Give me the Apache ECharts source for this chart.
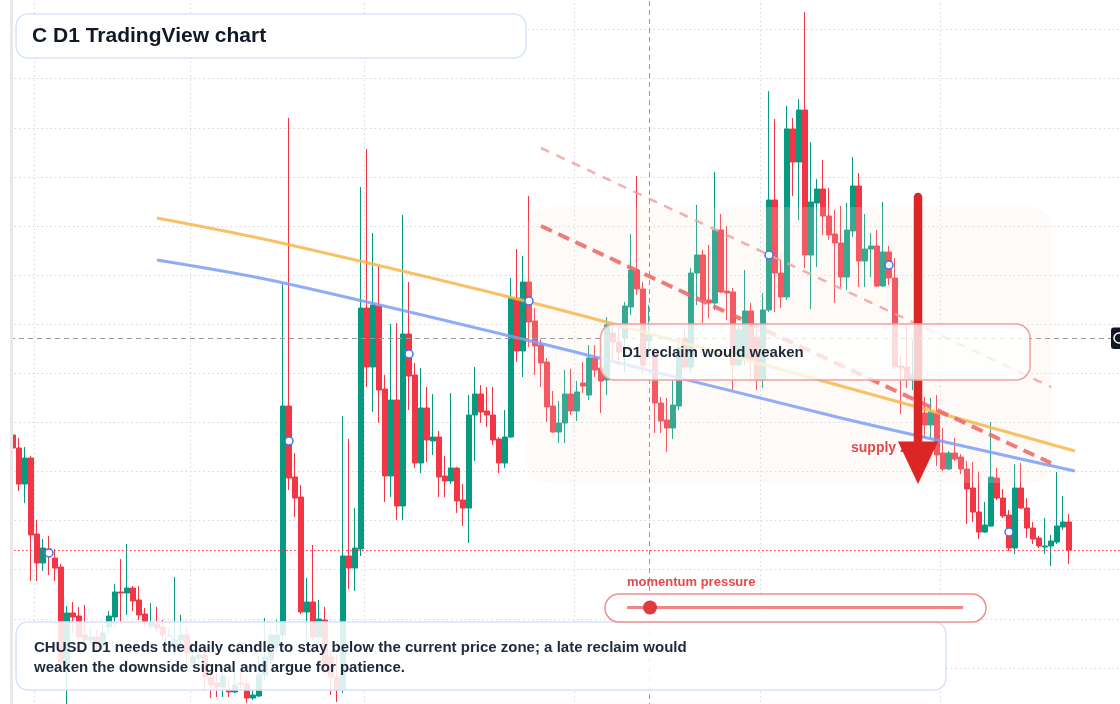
<!DOCTYPE html>
<html>
<head>
<meta charset="utf-8">
<style>
html, body { margin: 0; padding: 0; background: #fff; }
#main { width: 1120px; height: 704px; }
</style>
<script src="https://cdn.jsdelivr.net/npm/echarts@6/dist/echarts.min.js"></script>
</head>
<body>
<div id="main"></div>
<script>
let myChart = echarts.init(document.getElementById('main'));

// daily candles (price units are arbitrary, no axis labels shown)
const opens = [
    2.82, 2.69, 2.33, 2.59, 1.83, 1.54, 1.68, 1.59, 1.50, 0.52,
    1.04, 1.01, 0.82, 0.77, 0.80, 0.72, 0.90, 1.00, 1.25, 1.24,
    1.29, 1.17, 1.03, 0.91, 0.93, 0.90, 0.77, 0.69, 0.77, 0.82,
    0.54, 0.59, 0.62, 0.40, 0.34, 0.30, 0.27, 0.25, 0.34, 0.33,
    0.19, 0.21, 0.42, 0.57, 0.70, 0.82, 3.11, 2.40, 2.20, 1.05,
    1.15, 0.80, 0.97, 0.60, 0.40, 0.28, 1.61, 1.49, 1.68, 4.09,
    3.50, 4.11, 3.28, 2.41, 3.17, 2.11, 3.83, 3.42, 2.54, 3.09,
    2.76, 2.80, 2.41, 2.36, 2.49, 2.17, 2.09, 3.02, 3.23, 3.06,
    3.02, 2.78, 2.54, 2.80, 4.19, 3.66, 4.35, 3.96, 3.72, 3.55,
    3.11, 2.85, 2.94, 3.23, 3.06, 3.34, 3.22, 3.59, 3.49, 3.37,
    3.84, 3.75, 3.79, 4.10, 4.47, 4.28, 3.76, 3.63, 3.14, 2.97,
    2.89, 3.11, 3.79, 3.50, 4.44, 4.62, 4.17, 4.14, 4.87, 4.26,
    4.25, 3.52, 3.57, 4.06, 3.80, 3.37, 4.07, 5.17, 4.44, 4.20,
    5.88, 5.55, 6.07, 4.62, 5.14, 5.28, 5.01, 4.83, 4.74, 4.40,
    4.86, 5.31, 4.56, 4.68, 4.71, 4.31, 4.65, 4.39, 3.51, 3.50,
    3.38, 3.42, 3.04, 2.92, 3.04, 2.64, 2.48, 2.64, 2.60, 2.48,
    2.29, 2.05, 1.85, 1.91, 2.39, 2.19, 2.02, 1.69, 2.29, 2.09,
    1.89, 1.79, 1.70, 1.71, 1.75, 1.90, 1.95
];
const closes = [
    2.69, 2.33, 2.59, 1.82, 1.54, 1.69, 1.63, 1.49, 0.55, 1.04,
    1.00, 0.80, 0.77, 0.80, 0.74, 0.84, 1.01, 1.25, 1.24, 1.29,
    1.16, 1.02, 0.95, 0.94, 0.89, 0.82, 0.80, 0.77, 0.82, 0.64,
    0.60, 0.62, 0.40, 0.32, 0.30, 0.41, 0.25, 0.32, 0.33, 0.19,
    0.22, 0.42, 0.60, 0.82, 0.82, 3.11, 2.39, 2.19, 1.05, 1.15,
    0.80, 0.98, 0.51, 0.40, 0.27, 1.61, 1.49, 1.69, 4.09, 3.50,
    4.12, 3.27, 2.41, 3.17, 2.11, 3.83, 3.41, 2.54, 3.09, 2.77,
    2.80, 2.40, 2.36, 2.49, 2.16, 2.09, 3.02, 3.23, 3.05, 3.02,
    2.77, 2.54, 2.80, 4.19, 3.66, 4.35, 3.95, 3.71, 3.54, 3.10,
    2.85, 2.94, 3.23, 3.06, 3.25, 3.31, 3.59, 3.47, 3.36, 3.92,
    3.75, 3.65, 4.11, 4.47, 4.28, 3.52, 3.82, 3.14, 2.96, 2.89,
    3.12, 3.69, 3.50, 4.44, 4.62, 4.17, 4.14, 4.87, 4.25, 4.24,
    3.52, 3.87, 4.06, 3.57, 3.37, 4.07, 5.17, 4.44, 4.20, 5.88,
    5.55, 6.07, 4.62, 5.15, 5.28, 5.01, 4.82, 4.74, 4.40, 4.87,
    5.31, 4.56, 4.68, 4.71, 4.31, 4.65, 4.39, 3.50, 3.49, 3.38,
    3.42, 3.17, 2.92, 3.05, 2.62, 2.48, 2.64, 2.58, 2.48, 2.28,
    2.05, 1.85, 1.92, 2.40, 2.19, 2.01, 1.69, 2.29, 2.09, 1.89,
    1.78, 1.71, 1.71, 1.76, 1.91, 1.95, 1.67
];
const lows = [
    2.67, 2.26, 2.14, 1.36, 1.36, 1.46, 1.42, 1.36, 0.49, 0.13,
    0.84, 0.70, 0.67, 0.72, 0.67, 0.67, 0.84, 0.90, 0.95, 1.02,
    1.06, 0.97, 0.90, 0.87, 0.85, 0.77, 0.69, 0.62, 0.69, 0.54,
    0.49, 0.54, 0.27, 0.19, 0.20, 0.20, 0.20, 0.24, 0.27, 0.14,
    0.17, 0.20, 0.37, 0.53, 0.65, 0.77, 2.27, 2.00, 1.03, 0.70,
    0.77, 0.74, 0.43, 0.22, 0.15, 0.24, 1.28, 1.26, 1.61, 3.30,
    3.05, 2.94, 2.15, 2.20, 1.97, 1.97, 3.07, 2.49, 2.44, 2.55,
    2.62, 2.20, 2.20, 2.33, 2.04, 1.91, 1.74, 2.56, 2.94, 2.90,
    2.72, 2.44, 2.49, 2.79, 3.55, 3.40, 3.70, 3.42, 3.30, 2.95,
    2.84, 2.74, 2.74, 3.02, 2.96, 3.24, 3.17, 3.40, 3.04, 3.22,
    3.57, 3.52, 3.45, 4.02, 4.22, 3.44, 3.67, 2.84, 2.84, 2.65,
    2.78, 3.07, 3.47, 3.45, 4.12, 3.94, 3.99, 4.07, 4.24, 3.97,
    3.27, 3.50, 3.52, 3.37, 3.27, 3.29, 4.05, 4.05, 4.09, 4.17,
    5.21, 4.97, 4.49, 4.08, 4.50, 4.82, 4.77, 4.14, 4.30, 4.27,
    4.80, 4.30, 4.30, 4.40, 4.30, 4.30, 4.32, 3.47, 3.03, 3.29,
    3.27, 3.12, 2.79, 2.79, 2.51, 2.46, 2.47, 2.56, 2.43, 1.93,
    1.95, 1.78, 1.84, 1.90, 2.17, 1.99, 1.66, 1.63, 2.08, 1.79,
    1.73, 1.69, 1.63, 1.51, 1.73, 1.87, 1.53
];
const highs = [
    2.85, 2.79, 2.70, 2.61, 1.97, 1.78, 1.81, 1.68, 1.53, 1.11,
    1.15, 1.10, 1.12, 0.89, 0.87, 0.92, 1.06, 1.33, 1.58, 1.73,
    1.31, 1.31, 1.09, 1.14, 1.10, 0.97, 0.89, 1.40, 1.02, 0.90,
    0.69, 0.67, 0.72, 0.47, 0.44, 0.50, 0.40, 0.50, 0.47, 0.40,
    0.27, 0.61, 0.99, 0.90, 0.97, 4.33, 5.99, 2.64, 2.32, 1.39,
    1.72, 1.17, 1.10, 0.67, 0.62, 3.01, 2.78, 2.09, 5.30, 5.68,
    4.84, 4.50, 3.42, 3.93, 3.94, 5.02, 4.35, 3.54, 3.49, 3.30,
    3.23, 2.86, 2.61, 3.24, 2.50, 2.33, 3.22, 3.50, 3.32, 3.30,
    3.30, 2.80, 3.07, 4.39, 4.68, 4.61, 5.21, 4.09, 3.78, 3.59,
    3.26, 3.16, 3.47, 3.48, 3.36, 3.55, 3.72, 3.72, 3.64, 4.00,
    3.89, 3.89, 4.15, 4.83, 5.41, 4.35, 4.12, 3.69, 3.20, 3.19,
    3.37, 3.79, 3.87, 4.49, 5.12, 4.67, 4.72, 5.45, 5.03, 4.91,
    4.29, 3.92, 4.47, 4.14, 3.92, 4.24, 6.26, 5.98, 4.57, 6.11,
    5.99, 6.18, 7.05, 5.75, 5.38, 5.57, 5.29, 5.07, 5.11, 5.14,
    5.60, 5.44, 5.03, 4.84, 4.87, 5.15, 4.71, 4.59, 3.60, 3.91,
    3.77, 3.47, 3.20, 3.19, 3.22, 2.89, 2.66, 2.79, 2.63, 2.56,
    2.55, 2.45, 2.15, 2.95, 2.49, 2.28, 2.07, 2.53, 2.54, 2.19,
    1.95, 1.81, 1.99, 1.82, 2.45, 2.21, 2.03
];

// empty days kept on the right, like the TradingView margin
const padDays = 8;

// small round markers on every 20th candle (the one under the note box is hidden)
const markerIdx = [6, 26, 46, 66, 86, 126, 146, 166];
const markerVals = [1.64, 0.77, 2.76, 3.63, 4.16, 4.62, 4.52, 1.85];

// drawn lines: [candle index, price]
const orangeLine = [[24, 4.99], [44, 4.75], [89, 4.105], [138, 3.31], [177, 2.66]];
const blueLine = [[24, 4.57], [44, 4.355], [89, 3.72], [138, 2.99], [177, 2.46]];
const dashUpper = [[88, 5.69], [173, 3.30]];
const dashLower = [[88, 4.91], [173, 2.54]];

const lastPrice = 1.67;
const cursorIdx = 106;
const cursorPrice = 3.79;
const monthCols = [4, 30, 59, 94, 125, 155];

// trading days for the category axis
let days = [];
let d = new Date(Date.UTC(2025, 0, 2));
while (days.length < opens.length + padDays) {
    let wd = d.getUTCDay();
    if (wd !== 0 && wd !== 6) days.push(d.toISOString().slice(0, 10));
    d.setUTCDate(d.getUTCDate() + 1);
}

let candles = opens.map((o, i) => [o, closes[i], lows[i], highs[i]]);
let markers = markerIdx.map((k, i) => [k, markerVals[i]]);

const ff = '"Liberation Sans", Arial, sans-serif';
const gridLine = {color: '#d3d7dd', type: [1.5, 3], width: 1};

let option = {
    animation: false,
    grid: {left: 10, right: 0, top: -19.5, bottom: -13, outerBoundsMode: 'none', containLabel: false},
    xAxis: {
        type: 'category',
        data: days,
        boundaryGap: true,
        axisLine: {show: false},
        axisTick: {show: false},
        axisLabel: {show: false},
        splitLine: {
            show: true,
            interval: (i) => monthCols.indexOf(i) >= 0,
            lineStyle: gridLine
        }
    },
    yAxis: {
        type: 'value',
        min: 0,
        max: 7.365,
        interval: 0.491,
        axisLine: {show: false},
        axisTick: {show: false},
        axisLabel: {show: false},
        splitLine: {show: true, lineStyle: gridLine}
    },
    series: [
        {
            type: 'candlestick',
            data: candles,
            barWidth: 4.6,
            z: 2,
            itemStyle: {
                color: '#089981',
                color0: '#f23645',
                borderColor: '#089981',
                borderColor0: '#f23645',
                borderWidth: 1
            },
            markLine: {
                silent: true,
                symbol: ['none', 'none'],
                label: {show: false},
                lineStyle: {color: '#f23645', type: [1.5, 2.5], width: 1},
                data: [{yAxis: lastPrice}]
            }
        },
        {
            type: 'line',
            data: orangeLine,
            smooth: 0.3,
            symbol: 'none',
            z: 4,
            lineStyle: {color: '#f8b64c', width: 3, opacity: 0.85}
        },
        {
            type: 'line',
            data: blueLine,
            smooth: 0.3,
            symbol: 'none',
            z: 4,
            lineStyle: {color: '#7b9ef7', width: 3, opacity: 0.85}
        },
        {
            type: 'line',
            data: dashUpper,
            symbol: 'none',
            z: 4,
            lineStyle: {color: '#f19c9c', width: 2.5, type: [9, 8], opacity: 0.8}
        },
        {
            type: 'line',
            data: dashLower,
            symbol: 'none',
            z: 4,
            lineStyle: {color: '#ec6565', width: 4, type: [12, 7], opacity: 0.85}
        },
        {
            type: 'scatter',
            data: markers,
            symbol: 'circle',
            symbolSize: 8,
            z: 5,
            itemStyle: {color: '#ffffff', borderColor: '#3f73f0', borderWidth: 1.5, opacity: 1},
            markLine: {
                silent: true,
                symbol: ['none', 'none'],
                label: {show: false},
                lineStyle: {color: '#9a9a9a', type: [5, 4], width: 1},
                data: [{xAxis: days[cursorIdx]}, {yAxis: cursorPrice}]
            }
        }
    ],
    graphic: {
        elements: [
            // faint zone
            {type: 'rect', z: 3, silent: true,
             shape: {x: 527, y: 207, width: 525, height: 276, r: 22},
             style: {fill: 'rgba(244,230,214,0.2)'}},
            // supply arrow
            {type: 'text', z: 5, x: 851, y: 448,
             style: {text: 'supply zone', fill: '#e5484d', fontSize: 14, fontWeight: 'bold', fontFamily: ff, verticalAlign: 'middle'}},
            {type: 'line', z: 5, shape: {x1: 918, y1: 197, x2: 918, y2: 446},
             style: {stroke: '#dc2626', lineWidth: 8.5, lineCap: 'round'}},
            {type: 'polygon', z: 5, shape: {points: [[898, 441.5], [938, 441.5], [918, 484]]},
             style: {fill: '#dc2626'}},
            // reclaim note
            {type: 'rect', z: 6, shape: {x: 600.5, y: 324, width: 429.5, height: 56, r: 14},
             style: {fill: 'rgba(255,255,255,0.78)', stroke: '#f0a0a0', lineWidth: 1.5}},
            {type: 'text', z: 6, x: 622, y: 353,
             style: {text: 'D1 reclaim would weaken', fill: '#1f2937', fontSize: 15, fontWeight: 'bold', fontFamily: ff, verticalAlign: 'middle'}},
            // bottom note
            {type: 'rect', z: 7, shape: {x: 16, y: 622, width: 930, height: 68, r: 12},
             style: {fill: 'rgba(255,255,255,0.86)', stroke: '#d5e2fa', lineWidth: 1.5}},
            {type: 'text', z: 7, x: 34, y: 648,
             style: {text: 'CHUSD D1 needs the daily candle to stay below the current price zone; a late reclaim would',
                     fill: '#1e293b', fontSize: 15, fontWeight: 'bold', fontFamily: ff, verticalAlign: 'middle'}},
            {type: 'text', z: 7, x: 34, y: 668,
             style: {text: 'weaken the downside signal and argue for patience.',
                     fill: '#1e293b', fontSize: 15, fontWeight: 'bold', fontFamily: ff, verticalAlign: 'middle'}},
            // title
            {type: 'rect', z: 8, shape: {x: 16, y: 14, width: 510, height: 44, r: 12},
             style: {fill: '#ffffff', stroke: '#d7e4fa', lineWidth: 1.5}},
            {type: 'text', z: 8, x: 32, y: 36.5,
             style: {text: 'C D1 TradingView chart', fill: '#111827', fontSize: 21, fontWeight: 'bold', fontFamily: ff, verticalAlign: 'middle'}},
            // momentum gauge
            {type: 'text', z: 8, x: 627, y: 582.5,
             style: {text: 'momentum pressure', fill: '#e5484d', fontSize: 13, fontWeight: 'bold', fontFamily: ff, verticalAlign: 'middle'}},
            {type: 'rect', z: 8, shape: {x: 605, y: 594, width: 381, height: 28, r: 14},
             style: {fill: 'rgba(255,255,255,0.9)', stroke: '#ef8f8f', lineWidth: 1.5}},
            {type: 'line', z: 8, shape: {x1: 627, y1: 607.5, x2: 963, y2: 607.5},
             style: {stroke: '#f08686', lineWidth: 3}},
            {type: 'circle', z: 8, shape: {cx: 650, cy: 607.5, r: 7},
             style: {fill: '#e03a3e'}},
            // left edge strip
            {type: 'rect', z: 9, shape: {x: 10, y: 0, width: 3, height: 704},
             style: {fill: '#e8e8e8'}},
            // crosshair price tag (clipped at the right edge)
            {type: 'rect', z: 9, shape: {x: 1111, y: 327.5, width: 20, height: 21.5, r: 3},
             style: {fill: '#131722'}},
            {type: 'circle', z: 9, shape: {cx: 1119, cy: 338, r: 5},
             style: {fill: 'none', stroke: '#ffffff', lineWidth: 1.5}}
        ]
    }
};

myChart.setOption(option);
</script>
</body>
</html>
